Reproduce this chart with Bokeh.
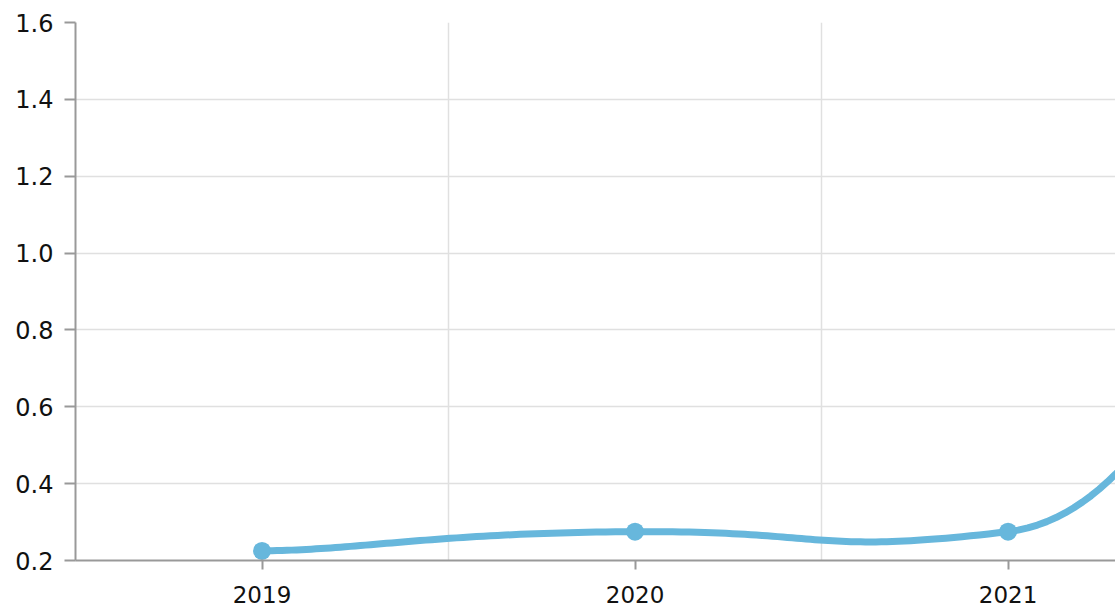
import numpy as np
from bokeh.plotting import figure
from bokeh.models import FixedTicker, Range1d
from bokeh.embed import file_html
from bokeh.resources import INLINE

years = ["2019", "2020", "2021", "2022"]
values = [0.225, 0.275, 0.275, 1.50]
y_ticks = [0.2, 0.4, 0.6, 0.8, 1.0, 1.2, 1.4, 1.6]

LINE_COLOR = "#67b7dc"
AXIS_COLOR = "#999999"
GRID_COLOR = "#e0e0e0"
FONT = "DejaVu Sans"
TENSION_X = 1.6
TENSION_Y = 0.3

xs = list(range(len(years)))


def smooth(px, py, kx, ky, n=60):
    ex = [px[0]] + list(px) + [px[-1]]
    ey = [py[0]] + list(py) + [py[-1]]
    ox, oy = [], []
    t = np.linspace(0, 1, n)
    for i in range(len(px) - 1):
        p0x, p1x, p2x, p3x = ex[i], ex[i + 1], ex[i + 2], ex[i + 3]
        p0y, p1y, p2y, p3y = ey[i], ey[i + 1], ey[i + 2], ey[i + 3]
        c1x = p1x + (p2x - p0x) / 6 * kx
        c1y = p1y + (p2y - p0y) / 6 * ky
        c2x = p2x - (p3x - p1x) / 6 * kx
        c2y = p2y - (p3y - p1y) / 6 * ky
        bx = (1 - t) ** 3 * p1x + 3 * (1 - t) ** 2 * t * c1x + 3 * (1 - t) * t ** 2 * c2x + t ** 3 * p2x
        by = (1 - t) ** 3 * p1y + 3 * (1 - t) ** 2 * t * c1y + 3 * (1 - t) * t ** 2 * c2y + t ** 3 * p2y
        ox.extend(bx.tolist())
        oy.extend(by.tolist())
    return ox, oy


p = figure(
    width=1115,
    height=608,
    output_backend="svg",
    toolbar_location=None,
    x_range=Range1d(-0.5, 2.288),
    y_range=Range1d(0.2, 1.6),
    min_border_left=75,
    min_border_right=0,
    min_border_top=22,
    min_border_bottom=48,
)
p.outline_line_color = None
p.background_fill_color = "white"
p.border_fill_color = "white"

sx, sy = smooth(xs, values, TENSION_X, TENSION_Y)
p.line(sx, sy, line_color=LINE_COLOR, line_width=7, line_cap="round", line_join="round")
p.scatter(xs, values, size=18, fill_color=LINE_COLOR, line_color=None)

# axes
p.xaxis.ticker = FixedTicker(ticks=xs)
p.xaxis.major_label_overrides = {x: y for x, y in zip(xs, years)}
p.yaxis.ticker = FixedTicker(ticks=y_ticks)
p.yaxis.major_label_overrides = {v: f"{v:.1f}" for v in y_ticks}

for ax in (p.xaxis[0], p.yaxis[0]):
    ax.axis_line_color = AXIS_COLOR
    ax.axis_line_width = 2
    ax.major_tick_line_color = AXIS_COLOR
    ax.major_tick_line_width = 2
    ax.major_tick_in = 0
    ax.minor_tick_line_color = None
    ax.major_label_text_font = FONT
    ax.major_label_text_color = "#111111"

p.yaxis.major_label_text_font_size = "24px"
p.xaxis.major_label_text_font_size = "23px"
p.xaxis.major_tick_out = 9
p.xaxis.major_label_standoff = 16
p.yaxis.major_tick_out = 11
p.yaxis.major_label_standoff = 11

# grids
p.xgrid.ticker = FixedTicker(ticks=[0.5, 1.5, 2.5])
p.xgrid.grid_line_color = GRID_COLOR
p.xgrid.grid_line_width = 1.5
p.ygrid.ticker = FixedTicker(ticks=y_ticks)
p.ygrid.grid_line_color = GRID_COLOR
p.ygrid.grid_line_width = 1.5

open("out.html", "w").write(file_html(p, INLINE))
